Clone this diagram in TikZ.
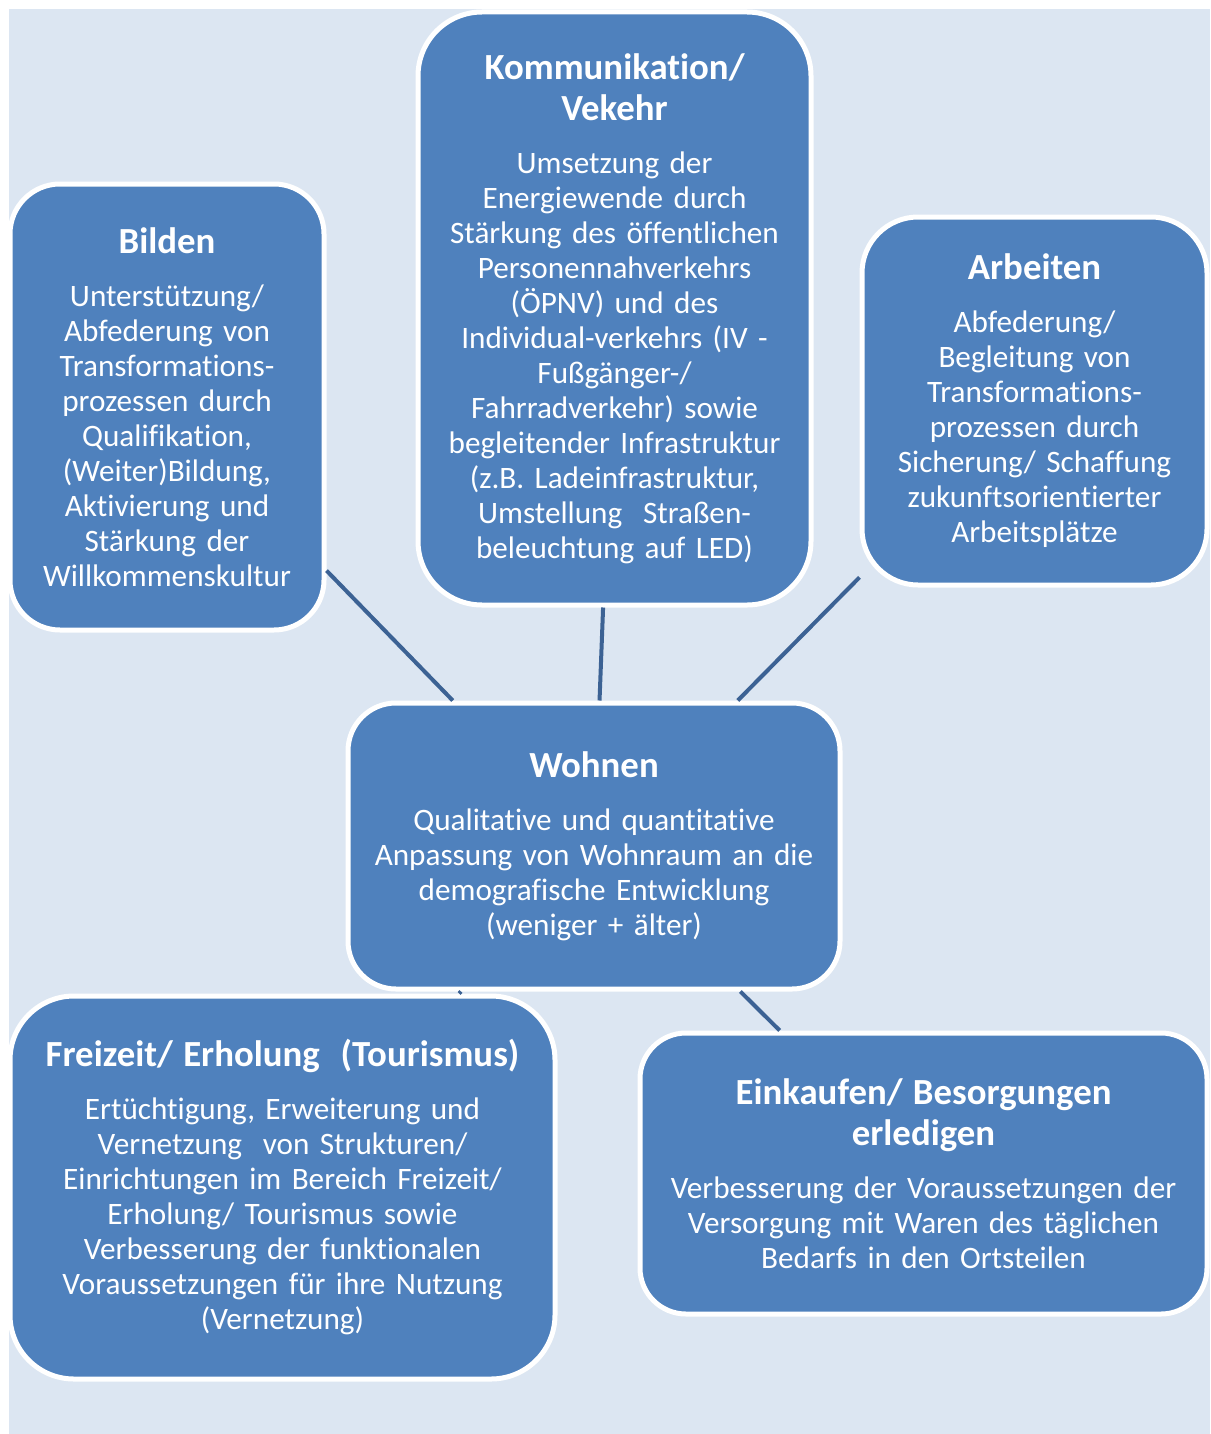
\documentclass[tikz,border=0pt]{standalone}
\usepackage{fontspec}
\setmainfont{Carlito}[Ligatures=NoCommon]
\definecolor{boxblue}{RGB}{79,129,189}
\definecolor{bgblue}{RGB}{220,230,242}
\definecolor{lineblue}{RGB}{60,98,148}
\newcommand{\boxtitle}[1]{{\fontsize{18.4}{20.5}\selectfont\bfseries #1\par}\vspace{9pt}}

\begin{document}
\begin{tikzpicture}[x=0.5pt,y=-0.5pt,box/.style={draw=white,line width=2.5pt,fill=boxblue,text=white,align=center,inner sep=0pt,font=\fontsize{15.6}{17.5}\selectfont},link/.style={draw=lineblue,line width=2pt}]
\useasboundingbox (0,0) rectangle (1210,1434);
\fill[bgblue] (9,9) rectangle (1210,1434);
\node[box,minimum width=157pt,minimum height=223pt,text width=153pt,rounded corners=25pt] (B) at (167,407) {\boxtitle{Bilden}Unterstützung/\\Abfederung von\\Transformations-\\prozessen durch\\Qualifikation,\\(Weiter)Bildung,\\Aktivierung und\\Stärkung der\\Willkommenskultur};
\node[box,minimum width=196.5pt,minimum height=296.5pt,text width=192pt,rounded corners=32pt] (K) at (614.5,308.5) {\boxtitle{Kommunikation/\\Vekehr}Umsetzung der\\Energiewende durch\\Stärkung des öffentlichen\\Personennahverkehrs\\(ÖPNV) und des\\Individual-verkehrs (IV -\\Fußgänger-/\\Fahrradverkehr) sowie\\begleitender Infrastruktur\\(z.B. Ladeinfrastruktur,\\Umstellung\ \ Straßen-\\beleuchtung auf LED)};
\node[box,minimum width=172.5pt,minimum height=184pt,text width=168pt,rounded corners=28pt] (A) at (1034.5,401) {\boxtitle{Arbeiten}Abfederung/\\Begleitung von\\Transformations-\\prozessen durch\\Sicherung/ Schaffung\\zukunftsorientierter\\Arbeitsplätze};
\node[box,minimum width=246pt,minimum height=143pt,text width=240pt,rounded corners=24pt] (W) at (594,846) {\boxtitle{Wohnen}Qualitative und quantitative\\Anpassung von Wohnraum an die\\demografische Entwicklung\\(weniger + älter)};
\node[box,minimum width=272.5pt,minimum height=191.5pt,text width=268pt,rounded corners=32pt] (F) at (282.5,1187.5) {\boxtitle{Freizeit/ Erholung\ \ (Tourismus)}Ertüchtigung, Erweiterung und\\Vernetzung\ \ von Strukturen/\\Einrichtungen im Bereich Freizeit/\\Erholung/ Tourismus sowie\\Verbesserung der funktionalen\\Voraussetzungen für ihre Nutzung\\(Vernetzung)};
\node[box,minimum width=283.5pt,minimum height=140.5pt,text width=278pt,rounded corners=23pt] (E) at (923.5,1173.5) {\boxtitle{Einkaufen/ Besorgungen\\erledigen}Verbesserung der Voraussetzungen der\\Versorgung mit Waren des täglichen\\Bedarfs in den Ortsteilen};
\draw[link] (B)--(W) (K)--(W) (A)--(W) (W)--(F) (W)--(E);
\end{tikzpicture}
\end{document}
